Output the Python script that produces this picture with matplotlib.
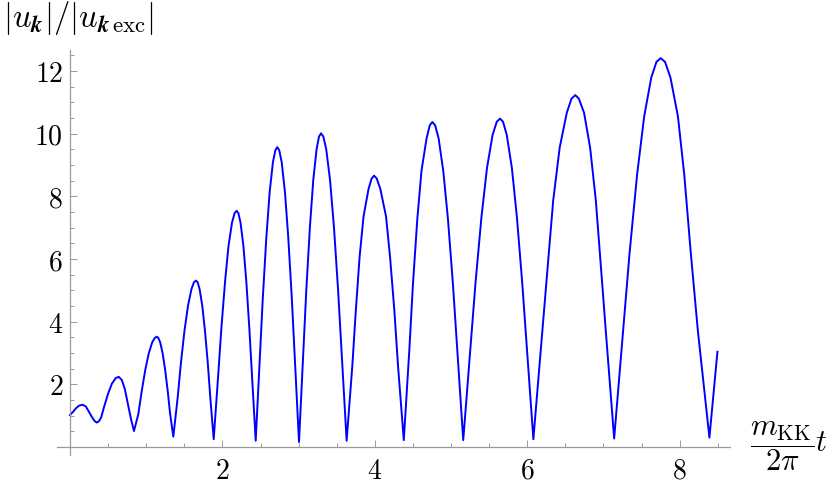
import matplotlib
matplotlib.use("Agg")
import matplotlib.pyplot as plt

plt.rcParams['mathtext.fontset'] = 'cm'

# data (t in units of m_KK t / 2pi, ratio |u_k|/|u_k exc|)
t_vals = [0.00, 0.04, 0.08, 0.12, 0.166, 0.21, 0.25, 0.29, 0.32, 0.35, 0.38, 0.41, 0.45, 0.50, 0.55, 0.60,
          0.64, 0.68, 0.72, 0.76, 0.80, 0.84,
          0.898, 0.940, 0.988, 1.034, 1.079, 1.113, 1.14, 1.159, 1.184, 1.216, 1.249, 1.284, 1.314, 1.356,
          1.414, 1.455, 1.503, 1.549, 1.594, 1.627, 1.654, 1.675, 1.701, 1.736, 1.771, 1.809, 1.841, 1.886,
          1.944, 1.986, 2.035, 2.080, 2.126, 2.160, 2.187, 2.210, 2.238, 2.276, 2.314, 2.354, 2.389, 2.437,
          2.492, 2.531, 2.577, 2.620, 2.663, 2.695, 2.72, 2.746, 2.778, 2.821, 2.864, 2.910, 2.950, 3.005,
          3.061, 3.101, 3.148, 3.192, 3.236, 3.268, 3.294, 3.324, 3.362, 3.413, 3.464, 3.518, 3.565, 3.63,
          3.705, 3.750, 3.800, 3.852, 3.917, 3.958, 3.99, 4.025, 4.073, 4.147, 4.200, 4.257, 4.304, 4.38,
          4.453, 4.500, 4.557, 4.612, 4.679, 4.721, 4.755, 4.791, 4.837, 4.898, 4.960, 5.025, 5.081, 5.16,
          5.254, 5.321, 5.399, 5.472, 5.545, 5.600, 5.643, 5.682, 5.731, 5.798, 5.864, 5.934, 5.995, 6.08,
          6.187, 6.263, 6.340, 6.425, 6.519, 6.581, 6.63, 6.676, 6.745, 6.825, 6.900, 6.970, 7.041, 7.14,
          7.258, 7.343, 7.441, 7.534, 7.627, 7.695, 7.75, 7.808, 7.879, 7.977, 8.06, 8.145, 8.238, 8.39,
          8.495]
u_ratio = [1.02, 1.12, 1.24, 1.32, 1.35, 1.29, 1.12, 0.95, 0.84, 0.78, 0.82, 0.95, 1.30, 1.70, 2.02, 2.20,
           2.24, 2.14, 1.85, 1.38, 0.90, 0.51,
           1.06, 1.76, 2.46, 2.99, 3.34, 3.48, 3.52, 3.48, 3.34, 2.99, 2.46, 1.76, 1.06, 0.33,
           1.59, 2.66, 3.72, 4.51, 5.04, 5.26, 5.31, 5.26, 5.04, 4.51, 3.72, 2.66, 1.59, 0.25,
           2.26, 3.77, 5.28, 6.41, 7.16, 7.46, 7.54, 7.46, 7.16, 6.41, 5.28, 3.77, 2.26, 0.20,
           2.87, 4.79, 6.70, 8.13, 9.09, 9.47, 9.57, 9.47, 9.09, 8.13, 6.70, 4.79, 2.87, 0.16,
           3.00, 5.01, 7.01, 8.51, 9.51, 9.91, 10.01, 9.91, 9.51, 8.51, 7.01, 5.01, 3.00, 0.20,
           2.60, 4.33, 6.06, 7.36, 8.23, 8.57, 8.66, 8.57, 8.23, 7.36, 6.06, 4.33, 2.60, 0.22,
           3.11, 5.19, 7.26, 8.81, 9.85, 10.27, 10.37, 10.27, 9.85, 8.81, 7.26, 5.19, 3.11, 0.22,
           3.14, 5.24, 7.34, 8.91, 9.96, 10.38, 10.48, 10.38, 9.96, 8.91, 7.34, 5.24, 3.14, 0.25,
           3.37, 5.62, 7.86, 9.55, 10.67, 11.12, 11.23, 11.12, 10.67, 9.55, 7.86, 5.62, 3.37, 0.27,
           3.72, 6.21, 8.69, 10.55, 11.79, 12.29, 12.41, 12.29, 11.79, 10.55, 8.69, 6.21, 3.72, 0.30,
           3.04]

x_major = [2, 4, 6, 8]
y_major = [2, 4, 6, 8, 10, 12]
x_minor = [0.5, 1, 1.5, 2.5, 3, 3.5, 4.5, 5, 5.5, 6.5, 7, 7.5, 8.5]
y_minor = [0.5, 1, 1.5, 2.5, 3, 3.5, 4.5, 5, 5.5, 6.5, 7, 7.5, 8.5, 9, 9.5, 10.5, 11, 11.5, 12.5]

W, H = 830, 486
fig = plt.figure(figsize=(W / 100, H / 100), dpi=100)
ax = fig.add_axes([57 / W, (H - 455) / H, (730 - 57) / W, (455 - 50) / H])

ax.plot(t_vals, u_ratio, color='#0000ff', lw=1.4, solid_joinstyle='round')

ax.set_xlim(-0.17, 8.66)
ax.set_ylim(-0.255, 12.67)

axis_gray = '#9a9a9a'
for s in ['top', 'right']:
    ax.spines[s].set_visible(False)
ax.spines['left'].set_position(('data', 0))
ax.spines['bottom'].set_position(('data', 0))
for s in ['left', 'bottom']:
    ax.spines[s].set_color(axis_gray)
    ax.spines[s].set_linewidth(0.9)

ax.set_xticks(x_major)
ax.set_yticks(y_major)
ax.set_xticks(x_minor, minor=True)
ax.set_yticks(y_minor, minor=True)
ax.set_xticklabels([f'${v}$' for v in x_major])
ax.set_yticklabels([f'${v}$' for v in y_major])
ax.tick_params(which='major', direction='in', length=5.2, width=0.7, color=axis_gray,
               labelsize=20, labelcolor='black')
ax.tick_params(which='minor', direction='in', length=2.8, width=0.7, color=axis_gray)
ax.tick_params(axis='x', which='major', pad=7)
ax.tick_params(axis='y', which='major', pad=5)

fig.text(3 / W, (H - 18) / H,
         r'$|u_{\boldsymbol{k}}|/|u_{\boldsymbol{k}\,\mathrm{exc}}|$',
         ha='left', va='center', fontsize=23.5)
fig.text(789 / W, (H - 446.5) / H, r'$\dfrac{m_{\mathrm{KK}}}{2\pi}t$',
         ha='center', va='center', fontsize=22)

fig.savefig('out.png', dpi=100)
